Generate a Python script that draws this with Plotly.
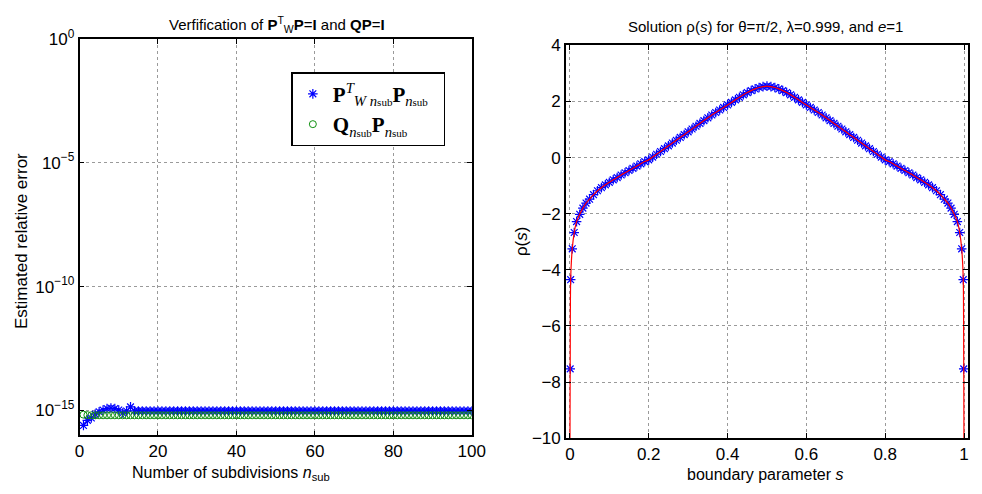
import plotly.graph_objects as go

# ---------------- left panel data ----------------
n_sub = list(range(1, 101))
err_PWP = [
    2.5e-16, 4.0e-16, 5.0e-16, 7.1e-16, 8.9e-16, 1.05e-15, 1.2e-15, 1.26e-15, 1.2e-15, 1.05e-15,
    7.9e-16, 9.5e-16, 1.4e-15, 9.6e-16, 9.6e-16, 9.6e-16, 9.6e-16, 9.6e-16, 9.6e-16, 9.6e-16,
    9.6e-16, 9.6e-16, 9.6e-16, 9.6e-16, 9.6e-16, 9.6e-16, 9.6e-16, 9.6e-16, 9.6e-16, 9.6e-16,
    9.6e-16, 9.6e-16, 9.6e-16, 9.6e-16, 9.6e-16, 9.6e-16, 9.6e-16, 9.6e-16, 9.6e-16, 9.6e-16,
    9.6e-16, 9.6e-16, 9.6e-16, 9.6e-16, 9.6e-16, 9.6e-16, 9.6e-16, 9.6e-16, 9.6e-16, 9.6e-16,
    9.6e-16, 9.6e-16, 9.6e-16, 9.6e-16, 9.6e-16, 9.6e-16, 9.6e-16, 9.6e-16, 9.6e-16, 9.6e-16,
    9.6e-16, 9.6e-16, 9.6e-16, 9.6e-16, 9.6e-16, 9.6e-16, 9.6e-16, 9.6e-16, 9.6e-16, 9.6e-16,
    9.6e-16, 9.6e-16, 9.6e-16, 9.6e-16, 9.6e-16, 9.6e-16, 9.6e-16, 9.6e-16, 9.6e-16, 9.6e-16,
    9.6e-16, 9.6e-16, 9.6e-16, 9.6e-16, 9.6e-16, 9.6e-16, 9.6e-16, 9.6e-16, 9.6e-16, 9.6e-16,
    9.6e-16, 9.6e-16, 9.6e-16, 9.6e-16, 9.6e-16, 9.6e-16, 9.6e-16, 9.6e-16, 9.6e-16, 9.6e-16,
]
err_QP = [
    6.8e-16, 6.5e-16, 6.4e-16, 6.4e-16, 6.4e-16, 6.4e-16, 6.4e-16, 6.4e-16, 6.4e-16, 6.4e-16,
    6.4e-16, 6.4e-16, 6.4e-16, 6.4e-16, 6.4e-16, 6.4e-16, 6.4e-16, 6.4e-16, 6.4e-16, 6.4e-16,
    6.4e-16, 6.4e-16, 6.4e-16, 6.4e-16, 6.4e-16, 6.4e-16, 6.4e-16, 6.4e-16, 6.4e-16, 6.4e-16,
    6.4e-16, 6.4e-16, 6.4e-16, 6.4e-16, 6.4e-16, 6.4e-16, 6.4e-16, 6.4e-16, 6.4e-16, 6.4e-16,
    6.4e-16, 6.4e-16, 6.4e-16, 6.4e-16, 6.4e-16, 6.4e-16, 6.4e-16, 6.4e-16, 6.4e-16, 6.4e-16,
    6.4e-16, 6.4e-16, 6.4e-16, 6.4e-16, 6.4e-16, 6.4e-16, 6.4e-16, 6.4e-16, 6.4e-16, 6.4e-16,
    6.4e-16, 6.4e-16, 6.4e-16, 6.4e-16, 6.4e-16, 6.4e-16, 6.4e-16, 6.4e-16, 6.4e-16, 6.4e-16,
    6.4e-16, 6.4e-16, 6.4e-16, 6.4e-16, 6.4e-16, 6.4e-16, 6.4e-16, 6.4e-16, 6.4e-16, 6.4e-16,
    6.4e-16, 6.4e-16, 6.4e-16, 6.4e-16, 6.4e-16, 6.4e-16, 6.4e-16, 6.4e-16, 6.4e-16, 6.4e-16,
    6.4e-16, 6.4e-16, 6.4e-16, 6.4e-16, 6.4e-16, 6.4e-16, 6.4e-16, 6.4e-16, 6.4e-16, 6.4e-16,
]
left_yticks = [1e-15, 1e-10, 1e-5, 1]
left_yticktext = ["10<sup>\u221215</sup>", "10<sup>\u221210</sup>", "10<sup>\u22125</sup>", "10<sup>0</sup>"]
left_xticks = [0, 20, 40, 60, 80, 100]

# ---------------- right panel data ----------------
s_nodes = [
    0.0008, 0.002, 0.006, 0.011, 0.017, 0.025, 0.033, 0.041,
    0.05, 0.06, 0.07, 0.08, 0.09, 0.10, 0.11, 0.12, 0.13, 0.14, 0.15,
    0.16, 0.17, 0.18, 0.19, 0.20, 0.21, 0.22, 0.23, 0.24, 0.25,
    0.26, 0.27, 0.28, 0.29, 0.30, 0.31, 0.32, 0.33, 0.34, 0.35,
    0.36, 0.37, 0.38, 0.39, 0.40, 0.41, 0.42, 0.43, 0.44, 0.45,
    0.46, 0.47, 0.48, 0.49, 0.50, 0.51, 0.52, 0.53, 0.54, 0.55,
    0.56, 0.57, 0.58, 0.59, 0.60, 0.61, 0.62, 0.63, 0.64, 0.65,
    0.66, 0.67, 0.68, 0.69, 0.70, 0.71, 0.72, 0.73, 0.74, 0.75,
    0.76, 0.77, 0.78, 0.79, 0.80, 0.81, 0.82, 0.83, 0.84, 0.85,
    0.86, 0.87, 0.88, 0.89, 0.90, 0.91, 0.92, 0.93, 0.94, 0.95,
    0.959, 0.967, 0.975, 0.983, 0.989, 0.994, 0.998, 0.9992,
]
rho_nodes = [
    -7.53, -4.35, -3.25, -2.67, -2.28, -2.02, -1.80, -1.62,
    -1.48, -1.32, -1.18, -1.07, -0.97, -0.88, -0.79, -0.71, -0.62, -0.54, -0.46,
    -0.38, -0.30, -0.22, -0.14, -0.08, 0.02, 0.12, 0.22, 0.32, 0.42,
    0.52, 0.62, 0.72, 0.82, 0.92, 1.02, 1.12, 1.22, 1.32, 1.42,
    1.52, 1.61, 1.70, 1.79, 1.88, 1.97, 2.06, 2.15, 2.24, 2.32,
    2.39, 2.45, 2.50, 2.53, 2.55, 2.53, 2.50, 2.45, 2.39, 2.32,
    2.24, 2.15, 2.06, 1.97, 1.88, 1.79, 1.70, 1.61, 1.52, 1.42,
    1.32, 1.22, 1.12, 1.02, 0.92, 0.82, 0.72, 0.62, 0.52, 0.42,
    0.32, 0.22, 0.12, 0.02, -0.08, -0.14, -0.22, -0.30, -0.38, -0.46,
    -0.54, -0.62, -0.71, -0.79, -0.88, -0.97, -1.07, -1.18, -1.32, -1.48,
    -1.62, -1.80, -2.02, -2.28, -2.67, -3.25, -4.35, -7.53,
]
# ends of the exact solution curve (it dives past the bottom of the axis)
s_line_left = [0.0001, 0.0004]
rho_line_left = [-12.0, -9.2]
s_line_right = [0.9996, 0.9999]
rho_line_right = [-9.2, -12.0]
right_xticks = [0, 0.2, 0.4, 0.6, 0.8, 1]
right_xticktext = ["0", "0.2", "0.4", "0.6", "0.8", "1"]
right_yticks = [-10, -8, -6, -4, -2, 0, 2, 4]
right_yticktext = ["\u221210", "\u22128", "\u22126", "\u22124", "\u22122", "0", "2", "4"]

W, H = 982, 494
FONT = "Liberation Sans, Arial, Helvetica, sans-serif"
SERIF = "Liberation Serif, DejaVu Serif, serif"

# pixel geometry
L_x0, L_x1, L_top, L_bot = 76, 476, 28, 443
R_x0, R_x1, R_top, R_bot = 572, 982, 35, 446

def px(xp):
    return xp / W

def py(yp):
    return 1 - yp / H

SUB = "<span style='font-size:11px'>sub</span>"

fig = go.Figure()

fig.add_trace(go.Scatter(
    x=n_sub, y=err_PWP, mode="markers", xaxis="x", yaxis="y",
    marker=dict(symbol="asterisk-open", size=8, color="#0000ff",
                line=dict(color="#0000ff", width=1.2)),
    name="<b>P</b><sup><i>T</i></sup><sub><i>W n</i>" + SUB + "</sub><b>P</b><sub><i>n</i>" + SUB + "</sub>  ",
))
fig.add_trace(go.Scatter(
    x=n_sub, y=err_QP, mode="markers", xaxis="x", yaxis="y",
    marker=dict(symbol="circle-open", size=7, color="#109010",
                line=dict(color="#109010", width=1)),
    name="<b>Q</b><sub><i>n</i>" + SUB + "</sub><b>P</b><sub><i>n</i>" + SUB + "</sub>",
))

fig.add_trace(go.Scatter(
    x=s_nodes, y=rho_nodes, mode="markers", xaxis="x2", yaxis="y2",
    marker=dict(symbol="asterisk-open", size=8, color="#0000ff",
                line=dict(color="#0000ff", width=1.2)),
    showlegend=False,
))
fig.add_trace(go.Scatter(
    x=s_line_left + s_nodes + s_line_right,
    y=rho_line_left + rho_nodes + rho_line_right,
    mode="lines", xaxis="x2", yaxis="y2",
    line=dict(color="#ff0000", width=1.2, shape="spline", smoothing=0.6),
    showlegend=False,
))

axis_common = dict(
    showline=True, linecolor="black", linewidth=1.5, mirror="ticks",
    ticks="inside", ticklen=5, tickcolor="black", tickwidth=1,
    showgrid=True, gridcolor="#9a9a9a", griddash="dot", gridwidth=1,
    zeroline=False,
    tickfont=dict(family=FONT, size=17, color="black"),
)

fig.update_layout(
    width=W, height=H,
    margin=dict(l=0, r=0, t=0, b=0),
    paper_bgcolor="white", plot_bgcolor="white",
    xaxis=dict(domain=[px(L_x0), px(L_x1)], range=[0, 100], tickmode="array",
               tickvals=left_xticks, anchor="y", **axis_common),
    yaxis=dict(domain=[py(L_bot), py(L_top)], type="log", range=[-16, 0],
               tickmode="array", tickvals=left_yticks, ticktext=left_yticktext,
               anchor="x", **axis_common),
    xaxis2=dict(domain=[px(R_x0), px(R_x1)], range=[-0.01, 1.01], tickmode="array",
                tickvals=right_xticks, ticktext=right_xticktext, anchor="y2",
                **axis_common),
    yaxis2=dict(domain=[py(R_bot), py(R_top)], range=[-10, 4], tickmode="array",
                tickvals=right_yticks, ticktext=right_yticktext, anchor="x2", **axis_common),
    legend=dict(
        x=px(292), y=py(63), xanchor="left", yanchor="top",
        bgcolor="white", bordercolor="black", borderwidth=1.5,
        font=dict(family=SERIF, size=21, color="black"),
        itemsizing="trace", tracegroupgap=6,
    ),
    showlegend=True,
)

ann = []
ann.append(dict(text="Verfification of <b>P</b><sup>T</sup><sub>W</sub><b>P</b>=<b>I</b> and <b>QP</b>=<b>I</b>",
                x=px(277), y=py(13), xref="paper", yref="paper", showarrow=False,
                font=dict(family=FONT, size=15, color="black"), xanchor="center", yanchor="middle"))
ann.append(dict(text="Solution \u03c1(<i>s</i>) for \u03b8=\u03c0/2, \u03bb=0.999, and <i>e</i>=1",
                x=px(775), y=py(15), xref="paper", yref="paper", showarrow=False,
                font=dict(family=FONT, size=15, color="black"), xanchor="center", yanchor="middle"))
ann.append(dict(text="Number of subdivisions <i>n</i><sub>sub</sub>",
                x=px(230), y=py(483), xref="paper", yref="paper", showarrow=False,
                font=dict(family=FONT, size=16, color="black"), xanchor="center", yanchor="middle"))
ann.append(dict(text="boundary parameter <i>s</i>",
                x=px(775), y=py(484), xref="paper", yref="paper", showarrow=False,
                font=dict(family=FONT, size=16, color="black"), xanchor="center", yanchor="middle"))
ann.append(dict(text="Estimated relative error",
                x=px(17), y=py(240), xref="paper", yref="paper", showarrow=False, textangle=-90,
                font=dict(family=FONT, size=17, color="black"), xanchor="center", yanchor="middle"))
ann.append(dict(text="\u03c1(<i>s</i>)",
                x=px(527), y=py(240), xref="paper", yref="paper", showarrow=False, textangle=-90,
                font=dict(family=FONT, size=17, color="black"), xanchor="center", yanchor="middle"))
fig.update_layout(annotations=ann)

fig.write_html(
    "out.html",
    config={"displayModeBar": False},
    post_script="document.body.style.margin='0';document.body.style.overflow='hidden';",
)
